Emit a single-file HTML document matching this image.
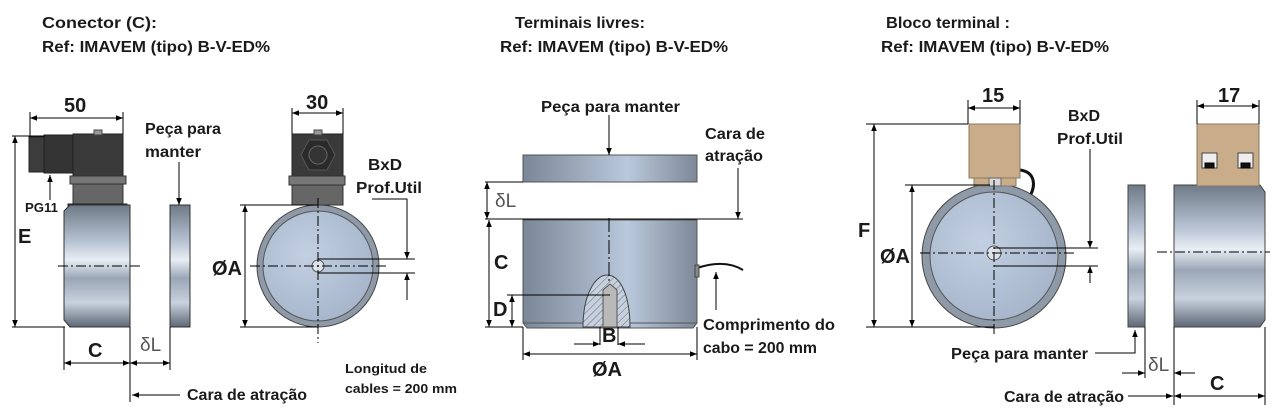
<!DOCTYPE html>
<html><head><meta charset="utf-8"><style>
html,body{margin:0;padding:0;background:#fff;width:1283px;height:408px;overflow:hidden}
svg{display:block}
text{font-family:"Liberation Sans",sans-serif;font-weight:bold;fill:#1a1a1a}
</style></head><body>
<svg width="1283" height="408" viewBox="0 0 1283 408" xmlns="http://www.w3.org/2000/svg">
<defs>
<marker id="a" viewBox="0 0 10 10" refX="10" refY="5" markerWidth="9" markerHeight="7" orient="auto-start-reverse" markerUnits="userSpaceOnUse"><path d="M0,1 L10,5 L0,9 Z" fill="#000"/></marker>
<linearGradient id="cyl" x1="0" y1="0" x2="0" y2="1">
<stop offset="0" stop-color="#6f7a88"/><stop offset="0.3" stop-color="#b7c3d3"/><stop offset="0.45" stop-color="#e9eef4"/><stop offset="0.6" stop-color="#9aa6b6"/><stop offset="0.8" stop-color="#c9d2de"/><stop offset="1" stop-color="#5e6875"/></linearGradient>
<linearGradient id="cyl2" x1="0" y1="0" x2="1" y2="0">
<stop offset="0" stop-color="#7a8798"/><stop offset="0.6" stop-color="#b9c8db"/><stop offset="1" stop-color="#7d8999"/></linearGradient>
<radialGradient id="disk" cx="0.4" cy="0.4" r="0.7"><stop offset="0" stop-color="#c3d0e3"/><stop offset="1" stop-color="#a4b3c9"/></radialGradient>
<pattern id="hatch" width="5" height="5" patternUnits="userSpaceOnUse" patternTransform="rotate(45)"><rect width="5" height="5" fill="#c6d0de"/><line x1="0" y1="0" x2="0" y2="5" stroke="#555" stroke-width="0.8"/></pattern>
</defs>
<g stroke="#000" stroke-width="1" fill="none">
<rect x="29" y="137" width="15" height="35" fill="#3c3c3c" stroke="#222"/>
<rect x="44" y="135" width="30" height="38" fill="#333" stroke="#222"/>
<rect x="73" y="134" width="50" height="44" fill="#3a3a3a" stroke="#222"/>
<rect x="94" y="130" width="8" height="5" fill="#999" stroke="#444"/>
<rect x="70" y="176" width="56" height="8" fill="#777" stroke="#333"/>
<rect x="73" y="184" width="50" height="20" fill="#666" stroke="#333"/>
<rect x="68" y="204" width="59" height="7" fill="#2e3540" stroke="#222"/>
<path d="M64,211 L70,205 L130,205 L130,327 L70,327 L64,320 Z" fill="url(#cyl)" stroke="#333"/>
<rect x="170" y="205" width="20" height="122" fill="url(#cyl)" stroke="#333"/>
<line x1="58" y1="266" x2="140" y2="266" stroke-dasharray="10,3,2,3"/>
<line x1="30" y1="112" x2="30" y2="137"/><line x1="123" y1="112" x2="123" y2="134"/>
<line x1="30" y1="118" x2="123" y2="118" marker-start="url(#a)" marker-end="url(#a)"/>
<line x1="12" y1="136" x2="45" y2="136"/><line x1="12" y1="327" x2="65" y2="327"/>
<line x1="15" y1="136" x2="15" y2="327" marker-start="url(#a)" marker-end="url(#a)"/>
<line x1="50" y1="200" x2="50" y2="175" marker-end="url(#a)"/>
<line x1="179" y1="162" x2="179" y2="205" marker-end="url(#a)"/>
<line x1="64" y1="327" x2="64" y2="370"/><line x1="130" y1="327" x2="130" y2="402"/><line x1="170" y1="327" x2="170" y2="370"/>
<line x1="64" y1="363" x2="130" y2="363" marker-start="url(#a)" marker-end="url(#a)"/>
<line x1="130" y1="363" x2="170" y2="363" marker-start="url(#a)" marker-end="url(#a)"/>
<line x1="180" y1="395" x2="132" y2="395" marker-end="url(#a)"/>
<rect x="292" y="134" width="51" height="43" fill="#3a3a3a" stroke="#222"/>
<polygon points="309,140 327,140 335,155 327,170 309,170 301,155" fill="#2a2a2a" stroke="#555"/>
<circle cx="318" cy="155" r="9" fill="#333" stroke="#666"/>
<rect x="314" y="130" width="8" height="5" fill="#999" stroke="#444"/>
<rect x="289" y="176" width="56" height="9" fill="#777" stroke="#333"/>
<rect x="292" y="185" width="51" height="20" fill="#666" stroke="#333"/>
<circle cx="318" cy="266" r="61" fill="#8f9aa8" stroke="#444"/>
<circle cx="318" cy="266" r="55" fill="url(#disk)" stroke="#555"/>
<circle cx="318" cy="266" r="6" fill="#dde3ea" stroke="#555"/>
<line x1="250" y1="266" x2="388" y2="266" stroke-dasharray="10,3,2,3"/>
<line x1="318" y1="198" x2="318" y2="343" stroke-dasharray="10,3,2,3"/>
<line x1="292" y1="108" x2="292" y2="134"/><line x1="343" y1="108" x2="343" y2="134"/>
<line x1="292" y1="113" x2="343" y2="113" marker-start="url(#a)" marker-end="url(#a)"/>
<line x1="240" y1="205" x2="318" y2="205"/><line x1="240" y1="327" x2="318" y2="327"/>
<line x1="245" y1="205" x2="245" y2="327" marker-start="url(#a)" marker-end="url(#a)"/>
<polyline points="372,199 407,199 407,258"/><line x1="407" y1="244" x2="407" y2="259" marker-end="url(#a)"/>
<line x1="407" y1="300" x2="407" y2="273" marker-end="url(#a)"/>
<line x1="318" y1="259" x2="415" y2="259"/><line x1="318" y1="273" x2="415" y2="273"/>
<rect x="523" y="155" width="174" height="27" fill="url(#cyl2)" stroke="#555"/>
<path d="M523,220 L697,220 L697,323 L693,328 L527,328 L523,323 Z" fill="url(#cyl2)" stroke="#555"/>
<line x1="523" y1="323" x2="697" y2="323" stroke="#555"/>
<path d="M583,327 C583,295 595,275 607,275 C620,275 630,295 630,327 Z" fill="url(#hatch)" stroke="#444"/>
<path d="M603,327 L603,290 L610,284 L617,290 L617,327 Z" fill="#b9b9b9" stroke="#555"/>
<line x1="609" y1="218" x2="609" y2="284" stroke-dasharray="14,3,2,3"/>
<path d="M697,268 C715,262 730,262 743,270" stroke="#111" stroke-width="2"/>
<rect x="695" y="265" width="4" height="12" fill="#888" stroke="#444"/>
<line x1="609" y1="115" x2="609" y2="155" marker-end="url(#a)"/>
<line x1="738" y1="168" x2="738" y2="219" marker-end="url(#a)"/>
<line x1="485" y1="182" x2="523" y2="182"/><line x1="485" y1="219" x2="743" y2="219"/>
<line x1="487" y1="182" x2="487" y2="219" marker-start="url(#a)" marker-end="url(#a)"/>
<line x1="485" y1="327" x2="523" y2="327"/>
<line x1="489" y1="220" x2="489" y2="327" marker-start="url(#a)" marker-end="url(#a)"/>
<line x1="507" y1="295" x2="610" y2="295"/>
<line x1="512" y1="295" x2="512" y2="327" marker-start="url(#a)" marker-end="url(#a)"/>
<line x1="600" y1="327" x2="600" y2="345"/><line x1="618" y1="327" x2="618" y2="345"/>
<line x1="574" y1="344" x2="600" y2="344" marker-end="url(#a)"/><line x1="645" y1="344" x2="618" y2="344" marker-end="url(#a)"/>
<line x1="523" y1="327" x2="523" y2="360"/><line x1="697" y1="327" x2="697" y2="360"/>
<line x1="523" y1="354" x2="697" y2="354" marker-start="url(#a)" marker-end="url(#a)"/>
<line x1="716" y1="310" x2="716" y2="272" marker-end="url(#a)"/>
<path d="M1020,170 C1035,172 1036,185 1030,196" stroke="#111" stroke-width="3"/>
<circle cx="994" cy="256" r="72" fill="#8f9aa8" stroke="#444"/>
<circle cx="994" cy="256" r="64" fill="url(#disk)" stroke="#555"/>
<circle cx="994" cy="253" r="7" fill="#dde3ea" stroke="#555"/>
<rect x="969" y="124" width="51" height="54" fill="#c9ad8a" stroke="#8a7a60"/>
<rect x="974" y="178" width="42" height="8" fill="#c9ad8a" stroke="#8a7a60"/>
<rect x="989" y="178" width="12" height="8" fill="#d8d8d8" stroke="#666"/>
<line x1="920" y1="253" x2="1075" y2="253" stroke-dasharray="10,3,2,3"/>
<line x1="994" y1="180" x2="994" y2="335" stroke-dasharray="10,3,2,3"/>
<line x1="968" y1="100" x2="968" y2="124"/><line x1="1020" y1="100" x2="1020" y2="124"/>
<line x1="968" y1="108" x2="1020" y2="108" marker-start="url(#a)" marker-end="url(#a)"/>
<line x1="866" y1="124" x2="968" y2="124"/><line x1="866" y1="327" x2="994" y2="327"/>
<line x1="874" y1="124" x2="874" y2="327" marker-start="url(#a)" marker-end="url(#a)"/>
<line x1="905" y1="185" x2="990" y2="185"/>
<line x1="912" y1="185" x2="912" y2="327" marker-start="url(#a)" marker-end="url(#a)"/>
<line x1="1090" y1="149" x2="1090" y2="248" /><line x1="1090" y1="232" x2="1090" y2="248" marker-end="url(#a)"/>
<line x1="1090" y1="283" x2="1090" y2="266" marker-end="url(#a)"/>
<line x1="994" y1="248" x2="1098" y2="248"/><line x1="994" y1="266" x2="1098" y2="266"/>
<rect x="1128" y="185" width="17" height="142" fill="url(#cyl)" stroke="#444"/>
<path d="M1174,185 L1260,185 L1265,192 L1265,320 L1260,327 L1174,327 Z" fill="url(#cyl)" stroke="#444"/>
<rect x="1197" y="124" width="62" height="62" fill="#c9ad8a" stroke="#8a7a60"/>
<rect x="1202" y="153" width="15" height="15" fill="#eee" stroke="#444"/><rect x="1238" y="153" width="15" height="15" fill="#eee" stroke="#444"/>
<rect x="1205" y="163" width="9" height="5" fill="#111"/><rect x="1241" y="163" width="9" height="5" fill="#111"/>
<line x1="1157" y1="252" x2="1270" y2="252" stroke-dasharray="10,3,2,3"/>
<line x1="1197" y1="100" x2="1197" y2="124"/><line x1="1259" y1="100" x2="1259" y2="124"/>
<line x1="1197" y1="106" x2="1259" y2="106" marker-start="url(#a)" marker-end="url(#a)"/>
<polyline points="1095,353 1135,353 1135,330"/><line x1="1135" y1="345" x2="1135" y2="330" marker-end="url(#a)"/>
<line x1="1145" y1="327" x2="1145" y2="378"/><line x1="1174" y1="327" x2="1174" y2="405"/><line x1="1265" y1="327" x2="1265" y2="405"/>
<line x1="1122" y1="373" x2="1145" y2="373" marker-end="url(#a)"/><line x1="1195" y1="373" x2="1174" y2="373" marker-end="url(#a)"/>
<line x1="1174" y1="396" x2="1265" y2="396" marker-start="url(#a)" marker-end="url(#a)"/>
<line x1="1128" y1="396" x2="1173" y2="396" marker-end="url(#a)"/>
</g>
<g font-size="16">
<text x="42" y="28" textLength="115" lengthAdjust="spacingAndGlyphs">Conector (C):</text>
<text x="42" y="52" textLength="228" lengthAdjust="spacingAndGlyphs">Ref: IMAVEM (tipo) B-V-ED%</text>
<text x="515" y="28" textLength="130" lengthAdjust="spacingAndGlyphs">Terminais livres:</text>
<text x="500" y="52" textLength="228" lengthAdjust="spacingAndGlyphs">Ref: IMAVEM (tipo) B-V-ED%</text>
<text x="886" y="28" textLength="124" lengthAdjust="spacingAndGlyphs">Bloco terminal :</text>
<text x="881" y="52" textLength="228" lengthAdjust="spacingAndGlyphs">Ref: IMAVEM (tipo) B-V-ED%</text>
<text x="145" y="134" textLength="76" lengthAdjust="spacingAndGlyphs">Peça para</text><text x="145" y="157" textLength="56" lengthAdjust="spacingAndGlyphs">manter</text>
<text x="187" y="400" textLength="120" lengthAdjust="spacingAndGlyphs">Cara de atração</text>
<text x="368" y="170" textLength="34" lengthAdjust="spacingAndGlyphs">BxD</text><text x="356" y="193" textLength="66" lengthAdjust="spacingAndGlyphs">Prof.Util</text>
<text x="541" y="112" textLength="139" lengthAdjust="spacingAndGlyphs">Peça para manter</text>
<text x="705" y="139" textLength="60" lengthAdjust="spacingAndGlyphs">Cara de</text><text x="705" y="161" textLength="58" lengthAdjust="spacingAndGlyphs">atração</text>
<text x="703" y="330" textLength="132" lengthAdjust="spacingAndGlyphs">Comprimento do</text><text x="703" y="353" textLength="114" lengthAdjust="spacingAndGlyphs">cabo = 200 mm</text>
<text x="1068" y="121" textLength="32" lengthAdjust="spacingAndGlyphs">BxD</text><text x="1057" y="144" textLength="66" lengthAdjust="spacingAndGlyphs">Prof.Util</text>
<text x="951" y="359" textLength="137" lengthAdjust="spacingAndGlyphs">Peça para manter</text>
<text x="1004" y="402" textLength="120" lengthAdjust="spacingAndGlyphs">Cara de atração</text>
</g>
<g font-size="13"><text x="25" y="212" textLength="33" lengthAdjust="spacingAndGlyphs">PG11</text>
<text x="345" y="373" textLength="82" lengthAdjust="spacingAndGlyphs">Longitud de</text><text x="345" y="393" textLength="112" lengthAdjust="spacingAndGlyphs">cables = 200 mm</text></g>
<g font-size="20">
<text x="64" y="112">50</text><text x="306" y="109">30</text>
<text x="982" y="102">15</text><text x="1218" y="102">17</text>
<text x="18" y="243">E</text><text x="88" y="357">C</text>
<text x="212" y="275">ØA</text>
<text x="494" y="269">C</text><text x="493" y="316">D</text><text x="602" y="342">B</text><text x="592" y="376">ØA</text>
<text x="858" y="237">F</text><text x="880" y="263">ØA</text><text x="1210" y="390">C</text>
</g>
<g font-size="19">
<text x="140" y="351" style="font-weight:normal;fill:#555">δL</text>
<text x="495" y="207" style="font-weight:normal;fill:#555">δL</text>
<text x="1148" y="371" style="font-weight:normal;fill:#555">δL</text>
</g>
</svg>
</body></html>
